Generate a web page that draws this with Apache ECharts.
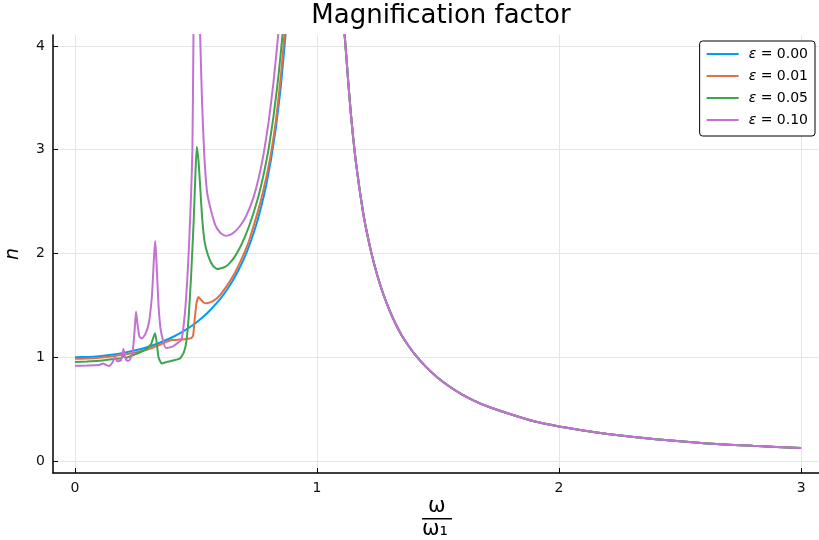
<!DOCTYPE html>
<html>
<head>
<meta charset="utf-8">
<script src="https://cdn.jsdelivr.net/npm/echarts@6/dist/echarts.min.js"></script>
<style>html,body{margin:0;padding:0;background:#fff}#c{width:819px;height:540px}</style>
</head>
<body>
<div id="c"></div>
<script>
// ---- data ----
const seriesNames = ['0.00', '0.01', '0.05', '0.10'];
const xTicks = [0, 1, 2, 3];
const yTicks = [0, 1, 2, 3, 4];

// branch above resonance (omega > 1): all four curves coincide
const rightW = [1.10, 1.114, 1.12, 1.13, 1.14, 1.15, 1.16, 1.175, 1.19, 1.20, 1.225, 1.25, 1.275, 1.30, 1.325, 1.35, 1.375, 1.40, 1.45, 1.50, 1.55, 1.60, 1.65, 1.70, 1.80, 1.90, 2.00, 2.10, 2.20, 2.40, 2.60, 2.80, 3.00];
const rightN = [4.76, 4.11, 3.93, 3.62, 3.34, 3.10, 2.89, 2.63, 2.40, 2.27, 2.00, 1.78, 1.60, 1.45, 1.32, 1.21, 1.12, 1.04, 0.907, 0.80, 0.713, 0.64, 0.58, 0.53, 0.45, 0.38, 0.333, 0.293, 0.26, 0.21, 0.17, 0.146, 0.125];

// eps = 0.00
const w0 = [0, 0.05, 0.10, 0.15, 0.20, 0.25, 0.30, 0.35, 0.40, 0.45, 0.50, 0.55, 0.60, 0.625, 0.65, 0.675, 0.70, 0.725, 0.75, 0.77, 0.79, 0.81, 0.83, 0.85, 0.865, 0.874, 0.89, 0.90];
const n0 = [1.00, 1.003, 1.01, 1.023, 1.042, 1.067, 1.099, 1.14, 1.19, 1.254, 1.333, 1.434, 1.5625, 1.641, 1.732, 1.838, 1.96, 2.108, 2.286, 2.457, 2.66, 2.908, 3.214, 3.604, 3.98, 4.23, 4.81, 5.26];

// eps = 0.01
const w1 = [0, 0.05, 0.10, 0.15, 0.20, 0.25, 0.30, 0.35, 0.38, 0.40, 0.43, 0.46, 0.48, 0.488, 0.495, 0.502, 0.51, 0.518, 0.53, 0.545, 0.57, 0.60, 0.625, 0.65, 0.675, 0.70, 0.72, 0.75, 0.77, 0.79, 0.81, 0.83, 0.85, 0.865, 0.89];
const n1 = [0.985, 0.988, 0.995, 1.008, 1.025, 1.045, 1.075, 1.12, 1.15, 1.165, 1.17, 1.175, 1.185, 1.21, 1.38, 1.52, 1.58, 1.56, 1.53, 1.52, 1.54, 1.60, 1.68, 1.77, 1.88, 2.01, 2.13, 2.36, 2.53, 2.73, 2.97, 3.28, 3.70, 4.10, 5.00];

// eps = 0.05
const w2 = [0, 0.05, 0.10, 0.15, 0.19, 0.20, 0.21, 0.25, 0.28, 0.30, 0.315, 0.325, 0.331, 0.337, 0.345, 0.358, 0.38, 0.41, 0.435, 0.45, 0.46, 0.47, 0.48, 0.49, 0.498, 0.503, 0.51, 0.517, 0.525, 0.535, 0.55, 0.57, 0.588, 0.60, 0.62, 0.64, 0.66, 0.68, 0.70, 0.72, 0.74, 0.76, 0.78, 0.80, 0.82, 0.84, 0.857, 0.88];
const n2 = [0.955, 0.958, 0.965, 0.98, 0.99, 1.01, 0.995, 1.03, 1.06, 1.09, 1.13, 1.20, 1.23, 1.15, 1.00, 0.94, 0.955, 0.97, 0.99, 1.05, 1.15, 1.40, 1.80, 2.30, 2.80, 3.03, 2.90, 2.65, 2.35, 2.12, 1.98, 1.88, 1.85, 1.855, 1.87, 1.91, 1.97, 2.05, 2.15, 2.27, 2.41, 2.57, 2.77, 3.01, 3.32, 3.70, 4.10, 4.80];

// eps = 0.10
const w3 = [0, 0.05, 0.10, 0.115, 0.125, 0.14, 0.155, 0.165, 0.175, 0.19, 0.20, 0.207, 0.215, 0.225, 0.238, 0.246, 0.252, 0.258, 0.266, 0.276, 0.29, 0.305, 0.318, 0.326, 0.331, 0.336, 0.345, 0.355, 0.375, 0.40, 0.42, 0.44, 0.455, 0.465, 0.472, 0.48, 0.485, 0.489, 0.491, 0.495, 0.50, 0.508, 0.513, 0.517, 0.525, 0.534, 0.545, 0.558, 0.58, 0.60, 0.62, 0.64, 0.66, 0.68, 0.70, 0.72, 0.74, 0.76, 0.78, 0.80, 0.82, 0.84, 0.86];
const n3 = [0.918, 0.92, 0.925, 0.94, 0.93, 0.915, 0.95, 1.00, 0.96, 0.97, 1.08, 1.00, 0.965, 0.97, 1.05, 1.25, 1.44, 1.32, 1.20, 1.18, 1.22, 1.33, 1.60, 1.95, 2.12, 1.95, 1.50, 1.25, 1.09, 1.10, 1.13, 1.17, 1.45, 1.80, 2.13, 2.60, 3.00, 4.00, 4.60, 6.50, 9.00, 6.00, 4.70, 4.10, 3.45, 2.95, 2.60, 2.45, 2.27, 2.20, 2.17, 2.18, 2.21, 2.26, 2.33, 2.43, 2.56, 2.74, 2.97, 3.27, 3.65, 4.12, 4.70];

const colors = ['#009AFA', '#E36F47', '#3EA44E', '#C371D2'];
const lefts = [[w0, n0], [w1, n1], [w2, n2], [w3, n3]];

function buildData(w, n) {
  const d = w.map((x, i) => [x, n[i]]);
  d.push([1.0, null]);
  rightW.forEach((x, i) => d.push([x, rightN[i]]));
  return d;
}

const font = 'DejaVu Sans';
const chart = echarts.init(document.getElementById('c'), null, {renderer: 'canvas'});
chart.setOption({
  animation: false,
  backgroundColor: '#fff',
  title: {
    text: 'Magnification factor',
    left: 436, top: -2, textAlign: 'center',
    textStyle: {fontFamily: font, fontSize: 26, fontWeight: 'normal', color: '#000'}
  },
  grid: {left: 53, right: 0, top: 35, bottom: 67, containLabel: false, outerBoundsMode: 'none'},
  legend: {
    right: 4, top: 41, orient: 'vertical',
    backgroundColor: '#fff', borderColor: '#000', borderWidth: 1, borderRadius: 3,
    padding: [6, 7, 9, 6], itemWidth: 32, itemHeight: 14, itemGap: 8,
    itemStyle: {opacity: 0},
    formatter: name => '{i|ε} = ' + name,
    textStyle: {fontFamily: font, fontSize: 14, color: '#000', padding: [0, 0, 0, 5],
      rich: {i: {fontFamily: font, fontStyle: 'italic', fontSize: 14, color: '#000'}}}
  },
  xAxis: {
    type: 'value', min: -0.091, max: 3.074,
    axisLine: {onZero: false, lineStyle: {color: '#000', width: 1.5}},
    axisTick: {inside: true, length: 5, customValues: xTicks, lineStyle: {color: '#000', width: 1}},
    axisLabel: {customValues: xTicks, fontFamily: font, fontSize: 14, color: '#111', margin: 8},
    splitLine: {show: true, lineStyle: {color: '#e5e5e5', width: 1}}
  },
  yAxis: {
    type: 'value', min: -0.116, max: 4.106,
    name: 'n', nameLocation: 'middle', nameGap: 30, nameRotate: 90,
    nameTextStyle: {fontFamily: font, fontSize: 19, fontStyle: 'italic', color: '#000'},
    axisLine: {show: true, onZero: false, lineStyle: {color: '#000', width: 1.5}},
    axisTick: {show: true, inside: true, length: 5, customValues: yTicks, lineStyle: {color: '#000', width: 1}},
    axisLabel: {customValues: yTicks, fontFamily: font, fontSize: 14, color: '#111', margin: 8},
    splitLine: {show: true, lineStyle: {color: '#e5e5e5', width: 1}}
  },
  series: seriesNames.map((nm, k) => ({
    name: nm, type: 'line', showSymbol: false, symbol: 'none',
    data: buildData(lefts[k][0], lefts[k][1]),
    connectNulls: false, clip: true,
    smooth: 0.15,
    lineStyle: {color: colors[k], width: 2}, itemStyle: {color: colors[k]},
    z: 2 + k
  })),
  graphic: [
    {type: 'text', top: 496, left: 428, style: {text: 'ω', fontFamily: font, fontSize: 21, fill: '#000'}},
    {type: 'rect', shape: {x: 422, y: 518, width: 30, height: 1.5}, style: {fill: '#000'}},
    {type: 'text', top: 519, left: 422, style: {text: 'ω₁', fontFamily: font, fontSize: 21, fill: '#000'}}
  ]
});
</script>
</body>
</html>
